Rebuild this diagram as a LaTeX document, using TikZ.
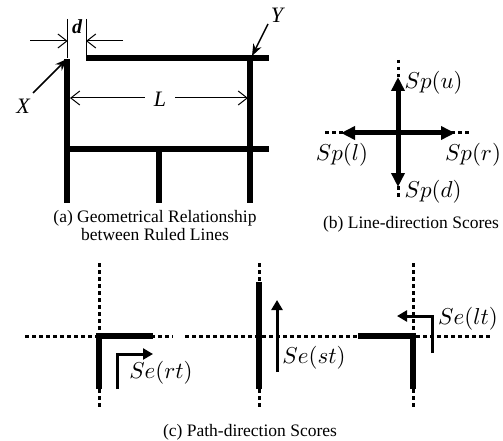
\documentclass[tikz,border=0pt]{standalone}
\usepackage{fontspec}
\setmainfont{Liberation Serif}
\usetikzlibrary{arrows.meta}

\tikzset{
  ruled/.style={line width=6pt, line join=miter},
  guide/.style={line width=3pt, dash pattern=on 3.5pt off 3.5pt},
  dimline/.style={line width=1pt},
  dimarrow/.style={line width=1pt, -{Straight Barb[length=9pt,width=14pt]}},
  pointer/.style={line width=1.5pt, -{Stealth[length=12pt,width=9pt]}},
  linescore/.style={line width=5pt, -{Triangle[length=14pt,width=13pt]}},
  pathscore/.style={line width=3pt, line join=miter, -{Triangle[length=10pt,width=11pt]}},
  caption/.style={font=\fontsize{17.5}{18}\selectfont, align=center, inner sep=0pt},
  lab/.style={font=\fontsize{22}{24}\selectfont\itshape, inner sep=1pt},
  score/.style={scale=2.3, inner sep=0.5pt}
}

\begin{document}
\begin{tikzpicture}[x=1pt, y=-1pt]
    \useasboundingbox (0,0) rectangle (503,441);

    % (a) ruled lines
    \coordinate (X) at (67,59);
    \coordinate (Y) at (252,56);
    \draw[ruled] (67,59) -- (67,203);
    \draw[ruled] (86,58) -- (269,58);
    \draw[ruled] (250,55) -- (250,203);
    \draw[ruled] (64,149) -- (269,149);
    \draw[ruled] (159,149) -- (159,203);
    % distance d
    \coordinate (dl) at (67.7,41);
    \coordinate (dr) at (86,41);
    \draw[dimline] (67.7,19) -- (67.7,58);
    \draw[dimline] (86,19) -- (86,56);
    \draw[dimarrow] (30,41) -- (dl);
    \draw[dimarrow] (123,41) -- (dr);
    \node[lab, font=\fontsize{20}{22}\selectfont\itshape\bfseries] (d) at (77,27) {d};
    % length L
    \node[lab] (L) at (160,99) {L};
    \draw[dimarrow] (L.west) ++(-8,-1) -- (70,98);
    \draw[dimarrow] (L.east) ++(8,-1) -- (248,98);
    % end points
    \node[lab] (Xl) at (23,106) {X};
    \node[lab] (Yl) at (277,15) {Y};
    \draw[pointer] (33,93) -- (X);
    \draw[pointer] (268,24) -- (Y);
    \node[caption] (capa) at (155,226) {(a) Geometrical Relationship\\between Ruled Lines};

    % (b) line-direction scores
    \coordinate (O) at (398,133);
    \draw[guide] (398,60) -- (398,200);
    \draw[guide] (325,133) -- (470,133);
    \draw[linescore] (O) -- (398,77);
    \draw[linescore] (O) -- (398,187);
    \draw[linescore] (O) -- (341,133);
    \draw[linescore] (O) -- (455,133);
    \node[score, anchor=west] (u) at (403,83) {$Sp(u)$};
    \node[score, anchor=west] (dd) at (403,192) {$Sp(d)$};
    \node[score] (l) at (342,155) {$Sp(l)$};
    \node[score] (r) at (473,155) {$Sp(r)$};
    \node[caption] (capb) at (411,224) {(b) Line-direction Scores};

    % (c) path-direction scores
    \draw[guide] (25,336) -- (173,336);
    \draw[guide] (185,336) -- (490,336);
    \foreach \x in {99,259,413}
        \draw[guide] (\x,263) -- (\x,407);
    \draw[ruled] (153,336) -- (99,336) -- (99,389);
    \draw[ruled] (259,282) -- (259,389);
    \draw[ruled] (358,336) -- (413,336) -- (413,389);
    \draw[pathscore] (117,389) -- (117,354) -- (153,354);
    \draw[pathscore] (277,372) -- (277,300);
    \draw[pathscore] (432,353) -- (432,316) -- (397,316);
    \node[score] (rt) at (161,373) {$Se(rt)$};
    \node[score] (st) at (314,358) {$Se(st)$};
    \node[score] (lt) at (468,319) {$Se(lt)$};
    \node[caption] (capc) at (250,432) {(c) Path-direction Scores};
\end{tikzpicture}
\end{document}
